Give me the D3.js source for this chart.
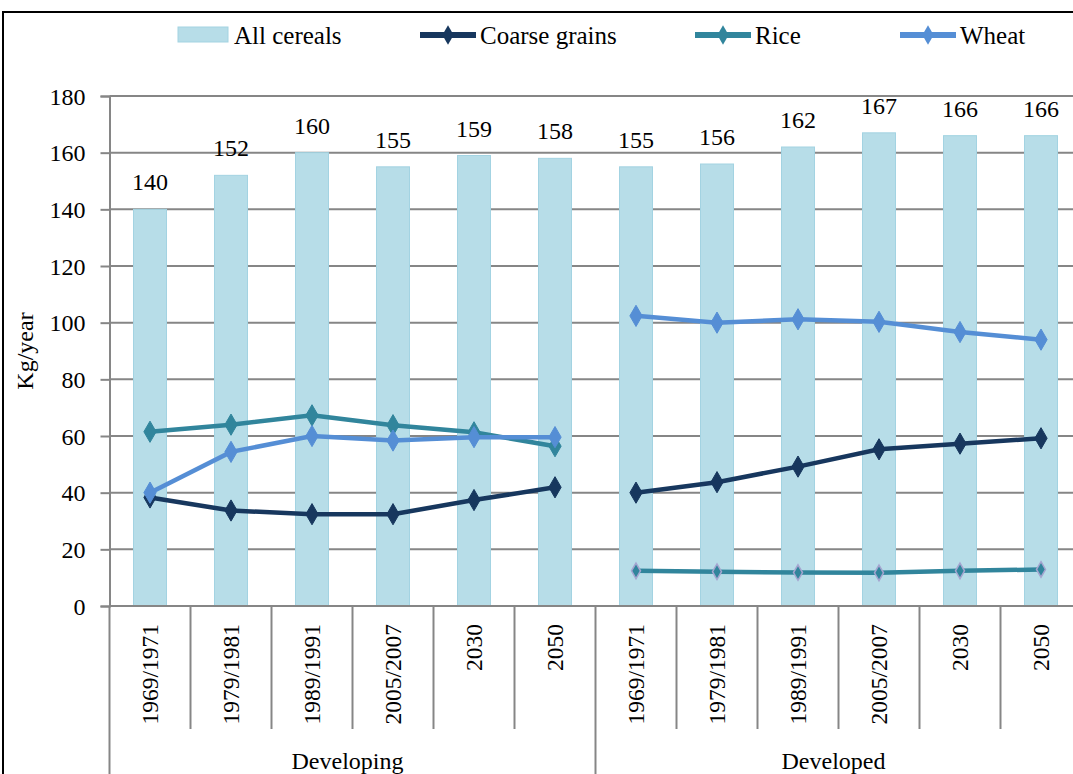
<!DOCTYPE html>
<html>
<head>
<meta charset="utf-8">
<script src="https://cdn.jsdelivr.net/npm/d3@7"></script>
<style>
  body { margin: 0; background: #fff; }
</style>
</head>
<body>
<svg id="chart" width="1073" height="774"></svg>
<script>
// data
const groups = ["Developing", "Developed"];
const periods = ["1969/1971", "1979/1981", "1989/1991", "2005/2007", "2030", "2050"];
const allCereals = [140, 152, 160, 155, 159, 158, 155, 156, 162, 167, 166, 166];
const coarseGrains = [38.3, 33.7, 32.4, 32.4, 37.4, 41.9, 40, 43.7, 49.2, 55.3, 57.3, 59.2];
const rice = [61.5, 64, 67.3, 63.8, 61.3, 56.4, 12.4, 12.1, 11.8, 11.7, 12.4, 12.9];
const wheat = [40, 54.4, 60, 58.4, 59.6, 59.6, 102.4, 100, 101.2, 100.3, 96.7, 94];
const yTicks = [0, 20, 40, 60, 80, 100, 120, 140, 160, 180];

const svg = d3.select("#chart");

const plotLeft = 109.5, band = 81, plotBottom = 606, plotTop = 96;
const keys = groups.flatMap(g => periods.map(p => g + "|" + p));

const x = d3.scaleBand().domain(keys).range([plotLeft, plotLeft + band * keys.length]);
const y = d3.scaleLinear().domain([0, 180]).range([plotBottom, plotTop]);
const cx = i => x(keys[i]) + x.bandwidth() / 2;

// outer frame
svg.append("rect")
    .attr("x", 3).attr("y", 12)
    .attr("width", 1200).attr("height", 900)
    .attr("fill", "none").attr("stroke", "#000").attr("stroke-width", 2);

// gridlines
svg.append("g").selectAll("line")
    .data(yTicks.filter(d => d > 0))
    .join("line")
    .attr("x1", plotLeft).attr("x2", 1073)
    .attr("y1", d => y(d)).attr("y2", d => y(d))
    .attr("stroke", "#868686").attr("stroke-width", 2);

// y axis
const yAxis = svg.append("g")
    .attr("transform", `translate(${plotLeft},0)`)
    .call(d3.axisLeft(y).tickValues(yTicks).tickSize(9).tickPadding(15));
yAxis.select(".domain").attr("stroke", "#868686").attr("stroke-width", 2);
yAxis.selectAll(".tick line").attr("stroke", "#868686").attr("stroke-width", 2);
yAxis.selectAll(".tick text").attr("class", "big").attr("dy", "0.34em");

svg.append("text")
    .attr("class", "big")
    .attr("transform", `translate(33,${(plotTop + plotBottom) / 2}) rotate(-90)`)
    .attr("text-anchor", "middle")
    .text("Kg/year");

// bars
const barW = 33;
svg.append("g").selectAll("rect")
    .data(allCereals)
    .join("rect")
    .attr("x", (d, i) => cx(i) - barW / 2)
    .attr("y", d => y(d))
    .attr("width", barW)
    .attr("height", d => y(0) - y(d))
    .attr("fill", "#b7dde8")
    .attr("stroke", "#a3d3e2")
    .attr("stroke-width", 1);

svg.append("g").selectAll("text")
    .data(allCereals)
    .join("text")
    .attr("class", "big")
    .attr("x", (d, i) => cx(i))
    .attr("y", d => y(d) - 19)
    .attr("text-anchor", "middle")
    .text(d => d);

// category axis
const catAxis = svg.append("g");
catAxis.append("line")
    .attr("x1", plotLeft).attr("x2", 1073)
    .attr("y1", plotBottom).attr("y2", plotBottom)
    .attr("stroke", "#868686").attr("stroke-width", 2);
catAxis.selectAll(".div")
    .data(d3.range(keys.length + 1))
    .join("line")
    .attr("x1", i => plotLeft + i * band).attr("x2", i => plotLeft + i * band)
    .attr("y1", plotBottom)
    .attr("y2", i => i % periods.length === 0 ? 774 : 729)
    .attr("stroke", "#868686").attr("stroke-width", 2);
catAxis.selectAll(".period")
    .data(keys)
    .join("text")
    .attr("class", "year")
    .attr("transform", (d, i) => `translate(${cx(i) + 8},624) rotate(-90)`)
    .attr("text-anchor", "end")
    .text(d => d.split("|")[1]);
catAxis.selectAll(".group")
    .data(groups)
    .join("text")
    .attr("class", "big")
    .attr("x", (d, i) => plotLeft + (i + 0.5) * periods.length * band - 5)
    .attr("y", 769)
    .attr("text-anchor", "middle")
    .text(d => d);

// lines
const series = [
    { name: "Coarse grains", values: coarseGrains, color: "#17375e" },
    { name: "Rice", values: rice, color: "#31859c" },
    { name: "Wheat", values: wheat, color: "#558ed5" }
];

const line = d3.line().x(d => cx(d.i)).y(d => y(d.v));
const diamond = d3.symbol().type(d3.symbolDiamond);

series.forEach(s => {
    const g = svg.append("g");
    groups.forEach((grp, gi) => {
        const pts = periods.map((p, pi) => {
            const i = gi * periods.length + pi;
            return { i, v: s.values[i] };
        });
        g.append("path")
            .attr("d", line(pts))
            .attr("fill", "none")
            .attr("stroke", s.color)
            .attr("stroke-width", 4.5);
        const small = s.name === "Rice" && grp === "Developed";
        g.selectAll(null)
            .data(pts)
            .join("path")
            .attr("transform", d => `translate(${cx(d.i)},${y(d.v)})`)
            .attr("d", diamond.size(small ? 70 : 130)())
            .attr("fill", s.color)
            .attr("stroke", small ? "#a5a5d0" : s.color)
            .attr("stroke-width", small ? 1.5 : 1);
    });
});

// legend
const legend = svg.append("g");
legend.append("rect")
    .attr("x", 178).attr("y", 27).attr("width", 50).attr("height", 15)
    .attr("fill", "#b7dde8").attr("stroke", "#a3d3e2");
legend.append("text")
    .attr("class", "leg")
    .attr("x", 234).attr("y", 44)
    .text("All cereals");

const legendX = [420, 695, 900];
series.forEach((s, i) => {
    const lg = legend.append("g").attr("transform", `translate(${legendX[i]},35)`);
    lg.append("line")
        .attr("x1", 0).attr("x2", 56)
        .attr("stroke", s.color).attr("stroke-width", 6);
    lg.append("path")
        .attr("transform", "translate(28,0)")
        .attr("d", diamond.size(110)())
        .attr("fill", s.color);
    lg.append("text")
        .attr("class", "leg")
        .attr("x", 60).attr("y", 9)
        .text(s.name);
});

// fonts: set on every text element directly
svg.selectAll("text")
    .style("font-family", "Liberation Serif")
    .attr("fill", "#000");
svg.selectAll("text.big").style("font-size", "24px");
svg.selectAll("text.year").style("font-size", "23.5px");
svg.selectAll("text.leg").style("font-size", "25px");
</script>
</body>
</html>
